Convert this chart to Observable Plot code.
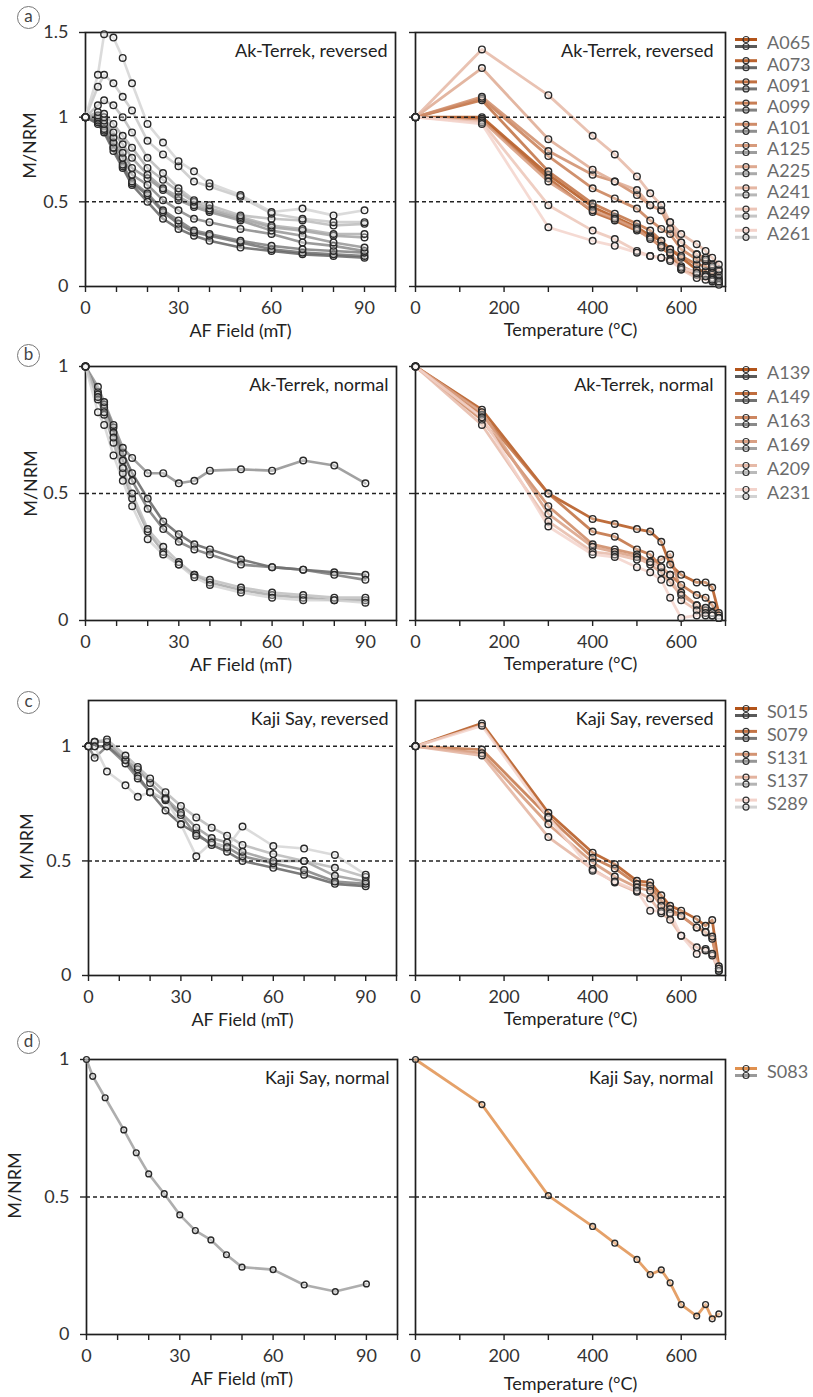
<!DOCTYPE html>
<html><head><meta charset="utf-8">
<script src="https://cdn.jsdelivr.net/npm/d3@7"></script>
<script src="https://cdn.jsdelivr.net/npm/@observablehq/plot@0.6"></script>
<style>
body{margin:0;background:#fff;}
#root{position:relative;width:813px;height:1397px;overflow:hidden;font-family:Lato,"Open Sans",sans-serif;}
#root > svg{position:absolute;}
</style></head><body><div id="root"></div>
<script>
// ---------------- DATA ----------------
const afStepsAk = [0,4,6,9,12,15,20,25,30,35,40,50,60,70,80,90];
const afStepsKaji = [0,2,6,12,16,20,25,30,35,40,45,50,60,70,80,90];
const thSteps = [0,150,300,400,450,500,530,555,575,600,635,655,670,685];

const akRevSamples = ["A065","A073","A091","A099","A101","A125","A225","A241","A249","A261"];
const akRevAF = [
  [1,0.96,0.91,0.80,0.70,0.60,0.50,0.40,0.34,0.30,0.27,0.23,0.21,0.19,0.18,0.17],
  [1,0.97,0.92,0.82,0.71,0.61,0.54,0.44,0.37,0.32,0.30,0.26,0.22,0.20,0.19,0.18],
  [1,0.98,0.93,0.82,0.72,0.62,0.55,0.45,0.39,0.33,0.31,0.27,0.24,0.22,0.21,0.20],
  [1,0.99,0.96,0.85,0.76,0.66,0.60,0.51,0.45,0.40,0.38,0.34,0.31,0.26,0.24,0.21],
  [1,1.00,0.98,0.88,0.79,0.70,0.64,0.57,0.51,0.47,0.44,0.39,0.33,0.30,0.26,0.23],
  [1,1.01,1.00,0.91,0.84,0.76,0.66,0.58,0.53,0.48,0.45,0.40,0.35,0.33,0.30,0.29],
  [1,1.03,1.02,0.96,0.89,0.82,0.70,0.63,0.56,0.50,0.46,0.41,0.36,0.34,0.31,0.31],
  [1,1.07,1.10,1.07,1.00,0.91,0.76,0.67,0.58,0.51,0.48,0.42,0.40,0.39,0.36,0.37],
  [1,1.18,1.25,1.20,1.12,1.04,0.86,0.78,0.71,0.62,0.59,0.53,0.43,0.40,0.38,0.38],
  [1,1.25,1.49,1.47,1.35,1.20,0.96,0.85,0.74,0.68,0.61,0.54,0.44,0.46,0.42,0.45]
];
const akRevTh = [
  [1,1.00,0.66,0.47,0.41,0.35,0.30,0.27,0.22,0.17,0.10,0.09,0.07,0.04],
  [1,0.99,0.64,0.44,0.39,0.33,0.29,0.23,0.19,0.10,0.07,0.06,0.04,0.02],
  [1,1.10,0.68,0.49,0.43,0.37,0.33,0.27,0.22,0.18,0.13,0.12,0.09,0.05],
  [1,1.11,0.77,0.58,0.52,0.46,0.39,0.34,0.31,0.22,0.16,0.15,0.11,0.07],
  [1,1.12,0.80,0.66,0.62,0.54,0.48,0.45,0.34,0.26,0.19,0.17,0.13,0.09],
  [1,0.98,0.62,0.45,0.40,0.34,0.28,0.24,0.20,0.12,0.08,0.07,0.05,0.02],
  [1,1.29,0.87,0.69,0.62,0.57,0.48,0.45,0.38,0.26,0.19,0.16,0.12,0.10],
  [1,1.40,1.13,0.89,0.78,0.65,0.55,0.48,0.38,0.31,0.25,0.21,0.17,0.13],
  [1,0.97,0.48,0.33,0.28,0.21,0.18,0.17,0.16,0.10,0.05,0.04,0.03,0.01],
  [1,0.96,0.35,0.27,0.24,0.20,0.18,0.17,0.15,0.11,0.08,0.06,0.04,0.03]
];

const akNormSamples = ["A139","A149","A163","A169","A209","A231"];
const akNormAF = [
  [1,0.90,0.85,0.76,0.66,0.58,0.48,0.39,0.34,0.30,0.28,0.24,0.21,0.20,0.19,0.18],
  [1,0.89,0.84,0.74,0.63,0.55,0.44,0.36,0.31,0.28,0.26,0.22,0.21,0.20,0.18,0.16],
  [1,0.92,0.86,0.77,0.68,0.64,0.58,0.58,0.54,0.55,0.59,0.595,0.59,0.63,0.61,0.54],
  [1,0.87,0.81,0.70,0.58,0.48,0.35,0.27,0.22,0.18,0.15,0.12,0.10,0.09,0.08,0.08],
  [1,0.88,0.82,0.72,0.60,0.50,0.36,0.29,0.23,0.18,0.16,0.13,0.11,0.10,0.09,0.09],
  [1,0.82,0.77,0.65,0.55,0.45,0.32,0.26,0.22,0.17,0.14,0.11,0.09,0.08,0.08,0.07]
];
const akNormTh = [
  [1,0.83,0.50,0.40,0.38,0.36,0.35,0.31,0.22,0.18,0.15,0.15,0.13,0.03],
  [1,0.81,0.50,0.35,0.33,0.28,0.26,0.21,0.18,0.14,0.10,0.09,0.06,0.02],
  [1,0.79,0.45,0.30,0.28,0.26,0.23,0.24,0.26,0.11,0.06,0.04,0.03,0.01],
  [1,0.82,0.42,0.29,0.27,0.25,0.22,0.19,0.15,0.10,0.06,0.05,0.03,0.01],
  [1,0.77,0.39,0.27,0.26,0.24,0.23,0.21,0.18,0.08,0.04,0.03,0.02,0.01],
  [1,0.80,0.37,0.26,0.25,0.21,0.19,0.16,0.09,0.01,0.02,0.02,0.02,0.01]
];

const kajiRevSamples = ["S015","S079","S131","S137","S289"];
const kajiRevAF = [
  [1,1.00,1.00,0.94,0.87,0.80,0.72,0.66,0.62,0.57,0.54,0.50,0.47,0.44,0.40,0.39],
  [1,0.95,1.00,0.925,0.86,0.80,0.765,0.70,0.61,0.58,0.56,0.52,0.49,0.46,0.41,0.40],
  [1,1.02,1.02,0.94,0.90,0.84,0.775,0.71,0.645,0.60,0.58,0.54,0.50,0.50,0.435,0.41],
  [1,1.02,1.03,0.96,0.91,0.86,0.80,0.74,0.69,0.645,0.61,0.57,0.53,0.50,0.47,0.43],
  [1,1.00,0.89,0.83,0.78,0.80,0.77,0.66,0.52,0.58,0.56,0.65,0.565,0.554,0.526,0.44]
];
const kajiRevTh = [
  [1,1.10,0.71,0.536,0.486,0.413,0.406,0.35,0.304,0.283,0.246,0.217,0.242,0.04],
  [1,0.986,0.693,0.514,0.467,0.399,0.391,0.326,0.29,0.26,0.21,0.188,0.16,0.03],
  [1,0.97,0.66,0.493,0.432,0.384,0.37,0.304,0.272,0.26,0.21,0.19,0.17,0.02],
  [1,0.96,0.604,0.464,0.406,0.365,0.336,0.272,0.243,0.174,0.123,0.116,0.087,0.02],
  [1,1.09,0.69,0.457,0.41,0.37,0.283,0.28,0.272,0.174,0.094,0.109,0.095,0.03]
];

const kajiNormSamples = ["S083"];
const kajiNormAF = [[1,0.939,0.861,0.744,0.661,0.584,0.512,0.435,0.378,0.344,0.29,0.245,0.236,0.18,0.156,0.184]];
const kajiNormTh = [[1,0.836,0.505,0.393,0.332,0.273,0.218,0.235,0.188,0.109,0.067,0.109,0.057,0.075]];

const afLabel = "AF Field (mT)";
const thLabel = "Temperature (°C)";
const yLabelText = "M/NRM";
const afTickLabels = [0,30,60,90];
const thTickLabels = [0,200,400,600];

// ---------------- STYLE ----------------
const FONT = "Lato, 'Open Sans', sans-serif";
const orangePal = n => n === 1 ? ["#e0914f"] : d3.quantize(d3.interpolateRgb("#b3541a", "#f3d3cb"), n);
const grayPal = n => n === 1 ? ["#9a9a9a"] : d3.quantize(d3.interpolateRgb("#5a5a5a", "#d2d2d2"), n);

function longData(samples, steps, values) {
  return samples.flatMap((s, i) => steps.map((t, j) => ({sample: s, step: t, m: values[i][j]})));
}

const root = document.getElementById("root");

function panel(o) {
  const frameH = o.frameBottom - o.frameTop;
  const mt = o.mt, mb = 62;
  const data = longData(o.samples, o.steps, o.values);
  const dashed = [0.5, 1].filter(v => v < o.yDomain[1]);
  const marks = [
    Plot.frame({stroke: "#1e1e1e", strokeWidth: 1.7}),
    Plot.axisX({ticks: o.xMinor, tickSize: 6, tickFormat: () => "", label: null, stroke: "#222", strokeWidth: 1.4}),
    Plot.axisX({ticks: o.xMajor, tickSize: 0, tickPadding: 15, tickFormat: d => String(d), label: null, fontSize: 18, fill: "#333"}),
    Plot.axisY({ticks: o.yTicks, tickSize: 6, tickPadding: 11, tickFormat: o.showY ? (d => String(d)) : () => "", label: null, fontSize: 18, fill: "#333", stroke: "#222", strokeWidth: 1.4}),
    Plot.line(data, {x: "step", y: "m", z: "sample", stroke: "sample", strokeWidth: o.lineWidth, strokeOpacity: o.lineOpacity}),
    Plot.ruleY(dashed, {stroke: "#222", strokeWidth: 1.5, strokeDasharray: "4,3"}),
    Plot.dot(data, {x: "step", y: "m", r: o.r, stroke: "#2a2a2a", strokeWidth: 1.4, fill: "white", fillOpacity: 0.3}),
    Plot.text([o.title], {text: d => d, frameAnchor: "top-right", dx: o.titleDx, dy: 19, fontSize: 18, fill: "#222", textAnchor: "end", lineAnchor: "middle"}),
    Plot.text([o.xLabel], {text: d => d, frameAnchor: "bottom", dy: o.xLabelDy, fontSize: 18, fill: "#222", lineAnchor: "middle"})
  ];
  if (o.letter) {
    marks.push(
      Plot.dot([o.letter], {frameAnchor: "top-left", dx: 28 - o.ml, dy: o.letterY - o.frameTop, r: 11, stroke: "#777", strokeWidth: 1, fill: "white"}),
      Plot.text([o.letter], {text: d => d, frameAnchor: "top-left", dx: 28 - o.ml, dy: o.letterY - o.frameTop - 1, fontSize: 17, fill: "#444", textAnchor: "middle", lineAnchor: "middle"}),
      Plot.text([yLabelText], {text: d => d, frameAnchor: "top-left", dx: o.yLab[0] - o.ml, dy: o.yLab[1] - o.frameTop, rotate: -90, fontSize: 18, fill: "#222", textAnchor: "middle", lineAnchor: "middle"})
    );
  }
  const svg = Plot.plot({
    width: o.width, height: mt + frameH + mb,
    marginTop: mt, marginBottom: mb, marginLeft: o.ml, marginRight: o.mr,
    style: {background: "transparent", fontFamily: FONT, fontSize: "18px", color: "#333"},
    x: {domain: o.xDomain},
    y: {domain: o.yDomain},
    color: {domain: o.samples, range: o.colors},
    marks
  });
  svg.style.position = "absolute";
  svg.style.left = o.left + "px";
  svg.style.top = (o.frameTop - mt) + "px";
  svg.style.maxWidth = "none";
  root.appendChild(svg);
}

function legend(samples, orange, gray, y0, step) {
  const n = samples.length;
  const svg = d3.create("svg").attr("width", 83).attr("height", (n - 1) * step + 28)
    .style("position", "absolute").style("left", "730px").style("top", (y0 - 14) + "px");
  samples.forEach((s, i) => {
    const cy = 14 + i * step;
    svg.append("line").attr("x1", 5).attr("x2", 27).attr("y1", cy - 3.5).attr("y2", cy - 3.5).attr("stroke", orange[i]).attr("stroke-width", 3);
    svg.append("line").attr("x1", 5).attr("x2", 27).attr("y1", cy + 3.5).attr("y2", cy + 3.5).attr("stroke", gray[i]).attr("stroke-width", 3);
    svg.append("circle").attr("cx", 16).attr("cy", cy - 3.5).attr("r", 3).attr("fill", "none").attr("stroke", "#333").attr("stroke-width", 1.2);
    svg.append("circle").attr("cx", 16).attr("cy", cy + 3.5).attr("r", 3).attr("fill", "none").attr("stroke", "#333").attr("stroke-width", 1.2);
    svg.append("text").attr("x", 37).attr("y", cy).attr("dy", "0.35em").attr("fill", "#6b6b6b")
      .style("font-family", FONT).style("font-size", "18px").text(s);
  });
  root.appendChild(svg.node());
}

const rows = [
  {samples: akRevSamples, af: akRevAF, th: akRevTh, afSteps: afStepsAk, title: "Ak-Terrek, reversed",
   frameTop: 32, frameBottom: 286, yDomain: [0, 1.5], yTicks: [0, 0.5, 1, 1.5], ml: 85, mr: 5, mt: 32,
   letter: "a", letterY: 17, yLab: [30, 145], legY: 42.5, legStep: 21.2, r: 3.3, thLabDy: 44},
  {samples: akNormSamples, af: akNormAF, th: akNormTh, afSteps: afStepsAk, title: "Ak-Terrek, normal",
   frameTop: 366, frameBottom: 620, yDomain: [0, 1], yTicks: [0, 0.5, 1], ml: 85, mr: 4, mt: 34,
   letter: "b", letterY: 355, yLab: [30.5, 483], legY: 373.3, legStep: 24, r: 3.3, thLabDy: 44},
  {samples: kajiRevSamples, af: kajiRevAF, th: kajiRevTh, afSteps: afStepsKaji, title: "Kaji Say, reversed",
   frameTop: 700, frameBottom: 975, yDomain: [0, 1.2], yTicks: [0, 0.5, 1], ml: 88, mr: 4, mt: 34,
   letter: "c", letterY: 702, yLab: [26.5, 846], legY: 711.7, legStep: 22.9, r: 3.3, thLabDy: 44},
  {samples: kajiNormSamples, af: kajiNormAF, th: kajiNormTh, afSteps: afStepsKaji, title: "Kaji Say, normal",
   frameTop: 1059, frameBottom: 1334, yDomain: [0, 1], yTicks: [0, 0.5, 1], ml: 86, mr: 3, mt: 34,
   letter: "d", letterY: 1042, yLab: [15, 1185], legY: 1072, legStep: 22, r: 2.9, thLabDy: 50}
];

rows.forEach(row => {
  const n = row.samples.length;
  const oranges = orangePal(n), grays = grayPal(n);
  panel({
    samples: row.samples, steps: row.afSteps, values: row.af, colors: grays,
    xDomain: [0, 100], xMinor: d3.range(0, 101, 10), xMajor: afTickLabels,
    yDomain: row.yDomain, yTicks: row.yTicks, showY: true,
    title: row.title, titleDx: -8, xLabel: afLabel, xLabelDy: 45,
    frameTop: row.frameTop, frameBottom: row.frameBottom, mt: row.mt,
    ml: row.ml, mr: row.mr, width: 400, left: 0,
    lineWidth: 2.6, lineOpacity: 0.8, r: row.r,
    letter: row.letter, letterY: row.letterY, yLab: row.yLab
  });
  panel({
    samples: row.samples, steps: thSteps, values: row.th, colors: oranges,
    xDomain: [0, 700], xMinor: d3.range(0, 701, 100), xMajor: thTickLabels,
    yDomain: row.yDomain, yTicks: row.yTicks, showY: false,
    title: row.title, titleDx: -12, xLabel: thLabel, xLabelDy: row.thLabDy,
    frameTop: row.frameTop, frameBottom: row.frameBottom, mt: row.mt,
    ml: 15, mr: 5, width: 330, left: 400,
    lineWidth: 2.8, lineOpacity: 0.85, r: row.r
  });
  legend(row.samples, oranges, grays, row.legY, row.legStep);
});
</script></body></html>
